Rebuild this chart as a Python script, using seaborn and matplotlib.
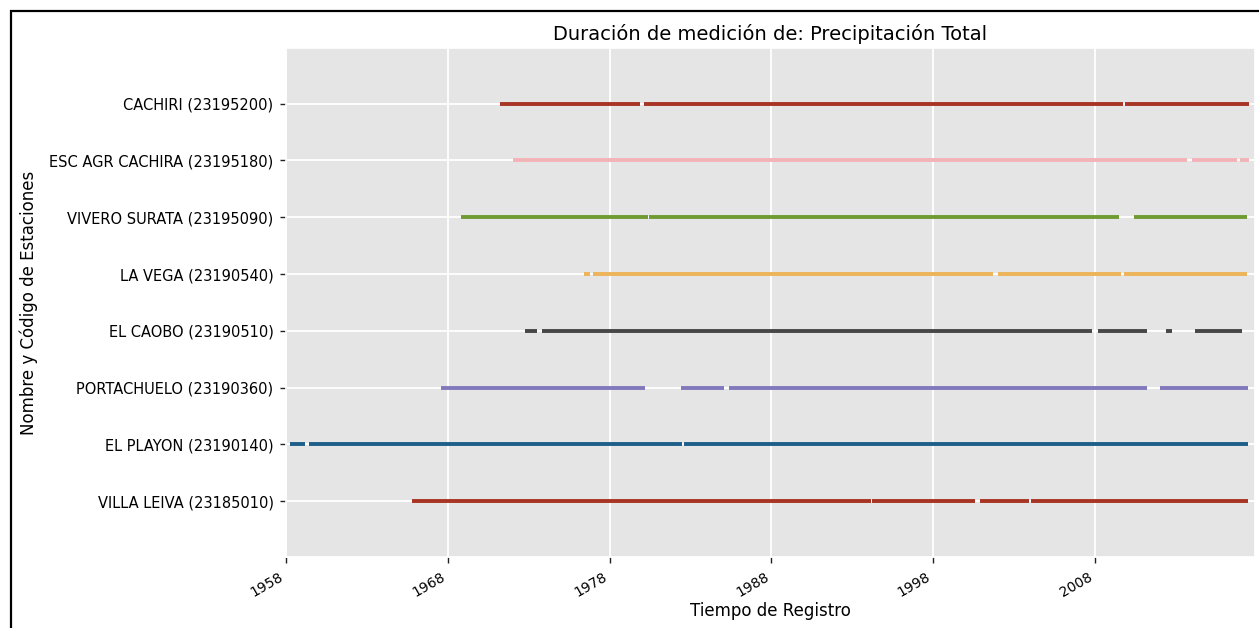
import pandas as pd
import seaborn as sns
import matplotlib.pyplot as plt
from matplotlib.patches import Rectangle

# Stations from bottom to top, with measured periods (fractional years)
stations = [
    "VILLA LEIVA (23185010)",
    "EL PLAYON (23190140)",
    "PORTACHUELO (23190360)",
    "EL CAOBO (23190510)",
    "LA VEGA (23190540)",
    "VIVERO SURATA (23195090)",
    "ESC AGR CACHIRA (23195180)",
    "CACHIRI (23195200)",
]

villa_leiva = [(1965.8, 1994.15), (1994.25, 2000.6), (2000.9, 2003.9), (2004.05, 2017.45)]
el_playon = [(1958.25, 1959.2), (1959.45, 1982.5), (1982.6, 2017.45)]
portachuelo = [(1967.6, 1980.2), (1982.4, 1985.1), (1985.4, 2011.2), (2012.0, 2017.45)]
el_caobo = [(1972.8, 1973.5), (1973.8, 2007.8), (2008.2, 2011.2), (2012.4, 2012.8),
            (2014.2, 2017.1)]
la_vega = [(1976.4, 1976.8), (1977.0, 2001.7), (2002.0, 2009.6), (2009.8, 2017.4)]
vivero_surata = [(1968.8, 1980.35), (1980.45, 2009.5), (2010.4, 2017.4)]
esc_agr_cachira = [(1972.0, 2013.7), (2014.0, 2016.8), (2017.0, 2017.5)]
cachiri = [(1971.2, 1979.9), (1980.1, 2009.75), (2009.85, 2017.5)]

periods = [villa_leiva, el_playon, portachuelo, el_caobo,
           la_vega, vivero_surata, esc_agr_cachira, cachiri]

colors = ["#A83424", "#1E5F8A", "#8279BC", "#474747",
          "#EDB45A", "#6E9C33", "#F2B3B8", "#A83424"]

year_ticks = [1958, 1968, 1978, 1988, 1998, 2008]

# Long table: two rows per segment
rows = []
for i, (name, segs) in enumerate(zip(stations, periods)):
    for j, (start, end) in enumerate(segs):
        seg_id = f"{i}-{j}"
        rows.append({"station": name, "pos": i, "seg": seg_id, "year": start})
        rows.append({"station": name, "pos": i, "seg": seg_id, "year": end})
df = pd.DataFrame(rows)

sns.set_theme(style="darkgrid", rc={
    "axes.facecolor": "#E5E5E5",
    "grid.color": "white",
    "grid.linewidth": 1.3,
    "xtick.bottom": True,
    "ytick.left": True,
    "xtick.color": "#222222",
    "ytick.color": "#222222",
    "text.color": "black",
    "axes.labelcolor": "black",
})
plt.rcParams["font.family"] = ["DejaVu Sans"]

fig = plt.figure(figsize=(12.59, 6.28), dpi=100)
ax = fig.add_axes([0.2272, 0.1131, 0.7696, 0.8105])

sns.lineplot(data=df, x="year", y="pos", hue="station", units="seg",
             estimator=None, sort=False, palette=dict(zip(stations, colors)),
             linewidth=2.8, solid_capstyle="butt", legend=False, ax=ax)

ax.set_xlim(1958, 2017.9)
ax.set_ylim(-0.98, 7.98)
ax.set_yticks(range(len(stations)))
ax.set_yticklabels(stations, fontsize=10.5, color="black")
ax.set_xticks(year_ticks)
ax.set_xticklabels([str(y) for y in year_ticks], rotation=30, ha="right",
                   fontsize=10, color="black")
ax.tick_params(axis="both", length=4, width=1, pad=5)

ax.set_title("Duración de medición de: Precipitación Total", fontsize=14, pad=6,
             color="black")
ax.set_xlabel("Tiempo de Registro", fontsize=12, labelpad=2)
ax.set_ylabel("Nombre y Código de Estaciones", fontsize=12, labelpad=8)

# outer black frame
fig.patches.append(Rectangle((11 / 1259, -0.1), 1.2, 1.1 - 11 / 628,
                             transform=fig.transFigure, fill=False,
                             edgecolor="black", linewidth=1.6))

fig.savefig("out.png", dpi=100)
